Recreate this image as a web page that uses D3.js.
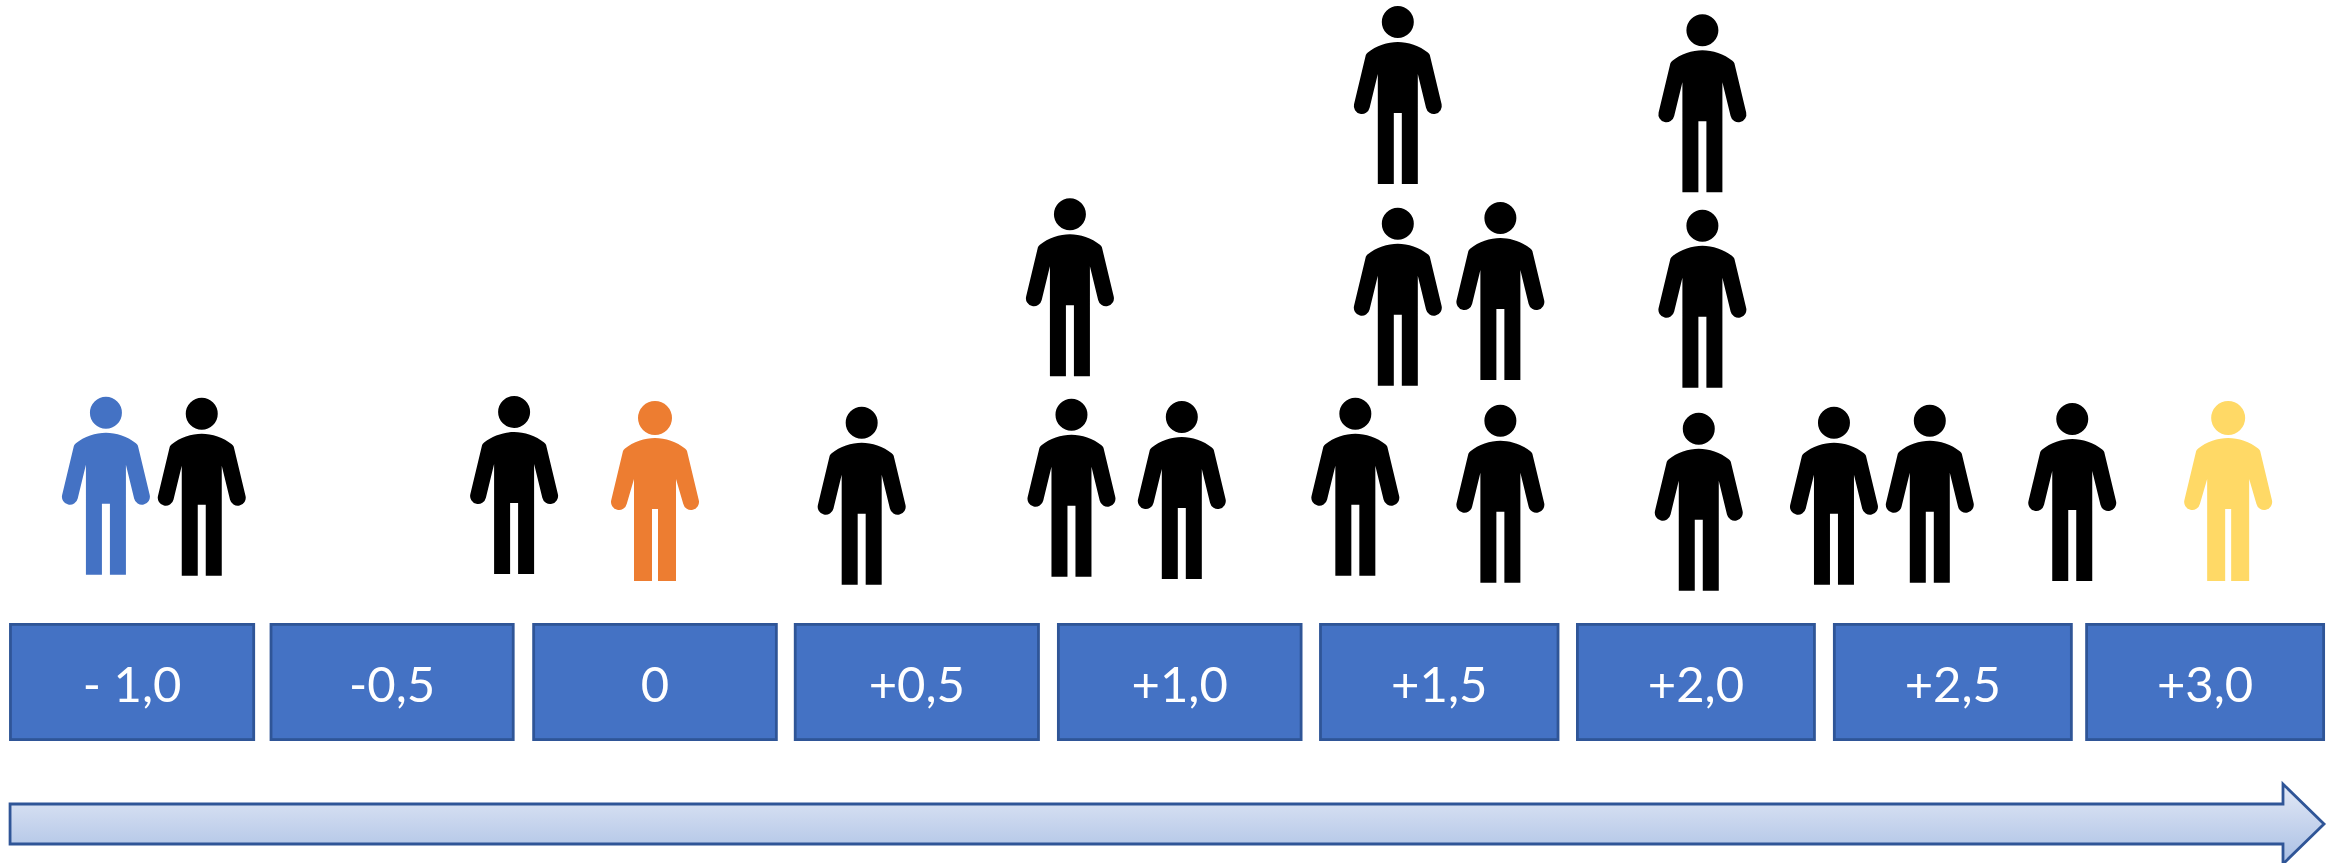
<!DOCTYPE html>
<html><head><meta charset="utf-8">
<script src="https://cdn.jsdelivr.net/npm/d3@7"></script>
<style>html,body{margin:0;padding:0;background:#fff;overflow:hidden}svg{display:block}</style>
</head><body><svg id="c" width="2341" height="863"></svg>
<script>
// categories: the score labels and the extent of each box along the score axis
const categories = ["- 1,0","-0,5","0","+0,5","+1,0","+1,5","+2,0","+2,5","+3,0"];
const binLow  = [-1.247,-0.744,-0.237,0.268,0.776,1.282,1.778,2.274,2.761];
const binHigh = [-0.772,-0.271,0.237,0.743,1.250,1.746,2.241,2.737,3.224];
// people: position on the score axis, stack height (rows above the base), and kind
const personScore = [-1.060,-0.875,-0.272,0,0.399,0.801,0.804,1.017,1.352,1.434,1.434,1.632,1.632,2.015,2.022,2.022,2.276,2.461,2.736,3.037];
const personStack = [0.0765,0.0715,0.08,0.045,0.0265,1.0685,0.0665,0.055,0.0715,2.03,1.0215,1.05,0.0365,-0.0035,1.9885,1.0115,0.0265,0.0365,0.045,0.045];
const personKind  = ["a","n","n","b","n","n","n","n","n","n","n","n","n","n","n","n","n","n","n","c"];
const kinds  = ["n","a","b","c"];
const colors = ["#000000","#4472c4","#ed7d31","#ffd966"];

const svg = d3.select("#c");
const x = d3.scaleLinear().domain([-1,3]).range([137,2209]);
const y = d3.scaleLinear().domain([0,3]).range([590,-10]);
const color = d3.scaleOrdinal(kinds, colors);

const defs = svg.append("defs");
const grad = defs.append("linearGradient").attr("id","g").attr("x1",0).attr("y1",0).attr("x2",0).attr("y2",1);
grad.append("stop").attr("offset",0).attr("stop-color","#e3e9f6");
grad.append("stop").attr("offset",1).attr("stop-color","#a9bfe4");

function personPath(kind){
  const wide = kind === "b" || kind === "c";
  const H = wide ? 163 : 162;
  const r = wide ? 17 : 16, body = wide ? 21 : 20, gap = wide ? 3 : 4;
  const pit = (wide ? 61 : 52) - H, crotch = 91 - H, foot = 0;
  const hy = 84 - H, top = 20 - H, sh = 33 - H, a = 13 * Math.PI / 180;
  const p = d3.path();
  p.moveTo(r, -H); p.arc(0, -H, r, 0, 2 * Math.PI);
  p.moveTo(-32, sh);
  p.arc(-36, hy, 8, Math.PI + a, a, true);
  p.lineTo(-body, pit);
  p.lineTo(-body, foot); p.lineTo(-gap, foot);
  p.lineTo(-gap, crotch); p.lineTo(gap, crotch); p.lineTo(gap, foot); p.lineTo(body, foot);
  p.lineTo(body, pit);
  p.arc(36, hy, 8, Math.PI - a, -a, true);
  p.lineTo(32, sh);
  p.quadraticCurveTo(31.5, sh - 1.5, 30, sh - 2.5);
  p.bezierCurveTo(22, top + 4, 10, top, 0, top);
  p.bezierCurveTo(-10, top, -22, top + 4, -30, sh - 2.5);
  p.quadraticCurveTo(-31.5, sh - 1.5, -32, sh);
  p.closePath();
  return p.toString();
}

// people
svg.append("g").selectAll("path").data(personScore).join("path")
  .attr("fill", (d,i) => color(personKind[i]))
  .attr("transform", (d,i) => `translate(${x(d)},${y(personStack[i])})`)
  .attr("d", (d,i) => personPath(personKind[i]));

// category boxes
const box = svg.append("g").selectAll("g").data(categories).join("g");
box.append("rect")
  .attr("x", (d,i) => x(binLow[i]) + 1.4)
  .attr("y", 624.4)
  .attr("width", (d,i) => x(binHigh[i]) - x(binLow[i]) - 2.8)
  .attr("height", 115.2)
  .attr("fill", "#4472c4").attr("stroke", "#2f5597").attr("stroke-width", 2.8);
box.append("text")
  .attr("x", (d,i) => (x(binLow[i]) + x(binHigh[i])) / 2)
  .attr("y", 702)
  .attr("text-anchor","middle")
  .attr("fill","#fff")
  .attr("font-family","Lato, 'Open Sans', sans-serif")
  .attr("font-size",49)
  .text(d => d);

// direction arrow along the score axis
const ax0 = x(-1.247) + 1, ax1 = x(3.224) - 1, ahead = 2283;
const arrow = d3.path();
arrow.moveTo(ax0, 804); arrow.lineTo(ahead, 804); arrow.lineTo(ahead, 784);
arrow.lineTo(ax1, 824); arrow.lineTo(ahead, 864); arrow.lineTo(ahead, 844);
arrow.lineTo(ax0, 844); arrow.closePath();
svg.append("path").attr("d", arrow.toString())
  .attr("fill","url(#g)").attr("stroke","#2f5597").attr("stroke-width",2.8);
</script></body></html>
